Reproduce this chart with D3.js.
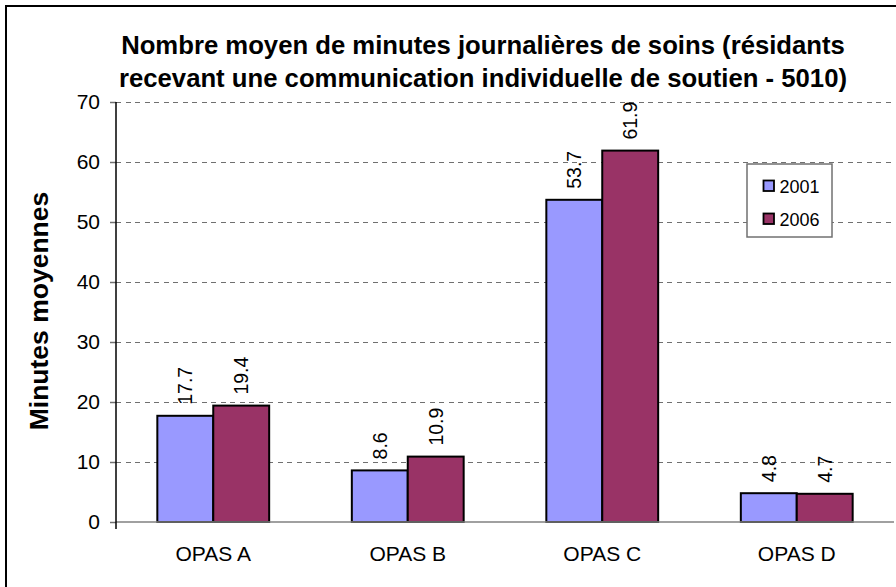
<!DOCTYPE html>
<html><head><meta charset="utf-8">
<script src="https://cdn.jsdelivr.net/npm/d3@7"></script>
<style>body{margin:0;background:#fff}svg{display:block}text{font-family:"Liberation Sans",Arial,sans-serif}</style>
</head><body>
<svg id="c" width="896" height="587"></svg>
<script>
const categories = ["OPAS A","OPAS B","OPAS C","OPAS D"];
const seriesNames = ["2001","2006"];
const values2001 = [17.7, 8.6, 53.7, 4.8];
const values2006 = [19.4, 10.9, 61.9, 4.7];
const yTicks = [0,10,20,30,40,50,60,70];
const colors = ["#9999FF","#993366"];
const titleLines = ["Nombre moyen de minutes journalières de soins (résidants","recevant une communication individuelle de soutien - 5010)"];
const yTitle = "Minutes moyennes";

(function(){
const svg = d3.select("#c");
svg.append("rect").attr("x",6).attr("y",6).attr("width",900).attr("height",600)
  .attr("fill","#fff").attr("stroke","#000").attr("stroke-width",2);

const pL=116, pR=894, pT=102, pB=522;
const x0 = d3.scaleBand().domain(categories).range([pL,pR]).paddingInner(0).paddingOuter(0);
const inner = 0.575;
const x1 = d3.scaleBand().domain(seriesNames).range([0,x0.bandwidth()*inner]);
const y = d3.scaleLinear().domain([0,70]).range([pB,pT]);

// gridlines
svg.append("g").selectAll("line").data(yTicks.filter(d=>d>0)).join("line")
  .attr("x1",pL).attr("x2",pR).attr("y1",d=>y(d)).attr("y2",d=>y(d))
  .attr("stroke","#707070").attr("stroke-width",1).attr("stroke-dasharray","5,4.5").attr("shape-rendering","crispEdges");

// y axis
const yAxis = d3.axisLeft(y).tickValues(yTicks).tickSize(6).tickPadding(10);
const gy = svg.append("g").attr("transform",`translate(${pL},0)`).call(yAxis);
gy.select(".domain").remove();
gy.selectAll(".tick line").attr("stroke","#707070").attr("stroke-width",1.5);
gy.selectAll(".tick text").attr("font-size",21).attr("fill","#000").attr("font-family","Liberation Sans, Arial, sans-serif");

const data = categories.map((c,i)=>({cat:c, vals:[{s:"2001",v:values2001[i],c:colors[0]},{s:"2006",v:values2006[i],c:colors[1]}]}));
const offset = x0.bandwidth()*(1-inner)/2;
const g = svg.append("g").selectAll("g").data(data).join("g")
  .attr("transform",d=>`translate(${x0(d.cat)+offset},0)`);
g.selectAll("rect").data(d=>d.vals).join("rect")
  .attr("x",d=>x1(d.s)).attr("width",x1.bandwidth())
  .attr("y",d=>y(d.v)).attr("height",d=>y(0)-y(d.v))
  .attr("fill",d=>d.c).attr("stroke","#000").attr("stroke-width",2);
g.selectAll("text").data(d=>d.vals).join("text")
  .attr("transform",d=>`translate(${x1(d.s)+x1.bandwidth()/2+7},${y(d.v)-11}) rotate(-90)`)
  .attr("text-anchor","start").attr("font-size",19.5).text(d=>d.v.toFixed(1));

// x baseline
svg.append("line").attr("x1",pL).attr("x2",pR).attr("y1",pB).attr("y2",pB)
  .attr("stroke","#808080").attr("stroke-width",1.5);
// y axis line
svg.append("line").attr("x1",pL).attr("x2",pL).attr("y1",pT).attr("y2",pB+7)
  .attr("stroke","#000").attr("stroke-width",1.5);

// x labels
const xAxis = d3.axisBottom(x0).tickSize(0).tickPadding(24);
const gx = svg.append("g").attr("transform",`translate(0,${pB})`).call(xAxis);
gx.select(".domain").remove();
gx.selectAll(".tick text").attr("font-size",21).attr("fill","#000").attr("font-family","Liberation Sans, Arial, sans-serif");

// title
svg.append("g").selectAll("text").data(titleLines).join("text")
  .attr("x",483).attr("y",(d,i)=>54+i*33).attr("text-anchor","middle")
  .attr("font-size",25.7).attr("font-weight","bold").text(d=>d);

// y title
svg.append("text").attr("transform",`translate(48,311) rotate(-90)`).attr("text-anchor","middle")
  .attr("font-size",26.5).attr("font-weight","bold").text(yTitle);

// legend
const lg = svg.append("g").attr("transform","translate(747,164)");
lg.append("rect").attr("width",85).attr("height",73).attr("fill","#fff").attr("stroke","#707070").attr("stroke-width",1.5);
const li = lg.selectAll("g").data(seriesNames).join("g").attr("transform",(d,i)=>`translate(16.5,${16.5+i*33})`);
li.append("rect").attr("width",10.5).attr("height",10.5).attr("fill",(d,i)=>colors[i]).attr("stroke","#000").attr("stroke-width",1.8);
li.append("text").attr("x",16).attr("y",12).attr("font-size",18).text(d=>d);
})();
</script>
</body></html>
